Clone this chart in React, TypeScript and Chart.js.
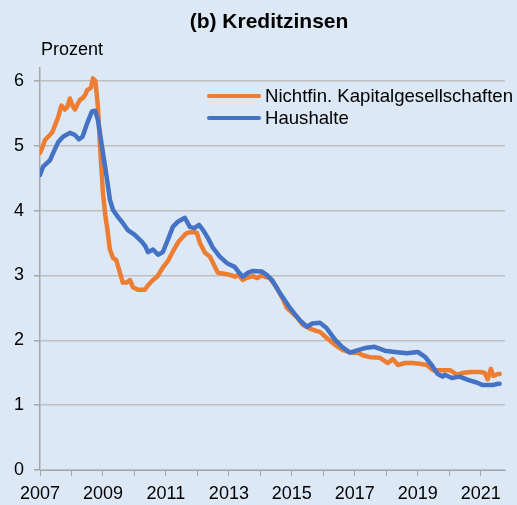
import React, { useEffect, useRef } from "react";
import { Chart, registerables } from "chart.js";

Chart.register(...registerables);

// Nichtfinanzielle Kapitalgesellschaften (year, percent)
const nfcYears = [
  2007.0, 2007.08, 2007.16, 2007.32, 2007.4, 2007.48, 2007.57, 2007.68, 2007.79, 2007.87,
  2007.95, 2008.03, 2008.11, 2008.19, 2008.27, 2008.37, 2008.45, 2008.5, 2008.58, 2008.62,
  2008.68, 2008.76, 2008.84, 2008.9, 2009.0, 2009.08, 2009.13, 2009.22, 2009.32, 2009.42,
  2009.54, 2009.63, 2009.75, 2009.86, 2009.95, 2010.11, 2010.33, 2010.43, 2010.59, 2010.72,
  2010.9, 2011.06, 2011.2, 2011.29, 2011.4, 2011.51, 2011.62, 2011.7, 2011.86, 2011.98,
  2012.08, 2012.24, 2012.4, 2012.56, 2012.65, 2012.8, 2012.94, 2013.1, 2013.19, 2013.3,
  2013.44, 2013.55, 2013.76, 2013.9, 2014.05, 2014.14, 2014.3, 2014.52, 2014.7, 2014.84,
  2015.0, 2015.16, 2015.35, 2015.57, 2015.75, 2015.89, 2016.1, 2016.37, 2016.62, 2016.9,
  2017.1, 2017.25, 2017.48, 2017.8, 2018.05, 2018.21, 2018.37, 2018.6, 2018.84, 2019.05,
  2019.29, 2019.48, 2019.7, 2020.02, 2020.24, 2020.45, 2020.71, 2020.97, 2021.12, 2021.22,
  2021.32, 2021.4, 2021.54, 2021.6,
];
const nfcRates = [
  4.89, 4.98, 5.09, 5.17, 5.22, 5.32, 5.43, 5.62, 5.56, 5.6,
  5.73, 5.62, 5.56, 5.64, 5.71, 5.74, 5.8, 5.86, 5.88, 5.9,
  6.04, 6.0, 5.6, 5.05, 4.27, 3.9, 3.75, 3.4, 3.27, 3.24,
  3.04, 2.89, 2.89, 2.93, 2.82, 2.78, 2.78, 2.85, 2.93, 2.98,
  3.12, 3.22, 3.35, 3.43, 3.52, 3.58, 3.64, 3.66, 3.67, 3.66,
  3.5, 3.35, 3.29, 3.13, 3.04, 3.03, 3.02, 3.0, 2.98, 3.01,
  2.93, 2.96, 2.99, 2.96, 3.0, 2.98, 2.96, 2.81, 2.65, 2.5,
  2.43, 2.36, 2.24, 2.18, 2.15, 2.13, 2.04, 1.93, 1.85, 1.81,
  1.81, 1.77, 1.74, 1.73, 1.65, 1.71, 1.62, 1.65, 1.65, 1.64,
  1.62, 1.54, 1.54, 1.54, 1.47, 1.5, 1.51, 1.51, 1.5, 1.4,
  1.56, 1.45, 1.48, 1.48,
];

// Haushalte (year, percent)
const hhYears = [
  2007.0, 2007.1, 2007.32, 2007.42, 2007.57, 2007.73, 2007.95, 2008.1, 2008.24, 2008.35,
  2008.5, 2008.65, 2008.75, 2008.84, 2009.0, 2009.13, 2009.22, 2009.32, 2009.48, 2009.63,
  2009.79, 2010.0, 2010.24, 2010.35, 2010.43, 2010.59, 2010.75, 2010.9, 2011.06, 2011.22,
  2011.38, 2011.6, 2011.76, 2011.9, 2012.05, 2012.18, 2012.33, 2012.49, 2012.71, 2012.94,
  2013.19, 2013.3, 2013.44, 2013.6, 2013.76, 2014.05, 2014.2, 2014.37, 2014.62, 2014.94,
  2015.1, 2015.25, 2015.48, 2015.65, 2015.89, 2016.1, 2016.37, 2016.59, 2016.84, 2017.1,
  2017.32, 2017.63, 2017.95, 2018.27, 2018.65, 2019.0, 2019.22, 2019.44, 2019.63, 2019.72,
  2019.79, 2019.86, 2020.08, 2020.33, 2020.59, 2020.87, 2021.06, 2021.38, 2021.54, 2021.6,
];
const hhRates = [
  4.55, 4.68, 4.78, 4.89, 5.05, 5.14, 5.2, 5.17, 5.1, 5.14,
  5.35, 5.53, 5.54, 5.4, 4.89, 4.48, 4.17, 4.01, 3.9, 3.81,
  3.7, 3.63, 3.52, 3.45, 3.36, 3.4, 3.32, 3.36, 3.55, 3.75,
  3.83, 3.89, 3.75, 3.73, 3.78, 3.7, 3.58, 3.43, 3.29, 3.19,
  3.13, 3.06, 2.98, 3.04, 3.07, 3.06, 3.01, 2.93, 2.73, 2.5,
  2.4, 2.31, 2.21, 2.26, 2.27, 2.19, 2.01, 1.9, 1.81, 1.85,
  1.88, 1.9, 1.84, 1.82, 1.8, 1.82, 1.75, 1.62, 1.48, 1.46,
  1.44, 1.47, 1.42, 1.44, 1.39, 1.35, 1.31, 1.31, 1.33, 1.33,
];

const seriesLabels = ["Nichtfin. Kapitalgesellschaften", "Haushalte"];
const titleText = "(b) Kreditzinsen";
const unitText = "Prozent";
const xTickYears = [2007, 2008, 2009, 2010, 2011, 2012, 2013, 2014, 2015, 2016, 2017, 2018, 2019, 2020, 2021];
const yTickValues = [0, 1, 2, 3, 4, 5, 6];

const BG = "#DCE8F6";
const ORANGE = "#ED7D31";
const BLUE = "#4472C4";
const FONT = "'Liberation Sans', Arial, sans-serif";

export default function App() {
  const ref = useRef<HTMLCanvasElement | null>(null);

  useEffect(() => {
    document.body.style.margin = "0";
    document.body.style.background = BG;
    const canvas = ref.current;
    if (!canvas) return;

    const decor = {
      id: "decor",
      beforeDraw(chart: any) {
        const ctx = chart.ctx;
        ctx.save();
        ctx.fillStyle = BG;
        ctx.fillRect(0, 0, chart.width, chart.height);
        ctx.restore();
      },
      afterDraw(chart: any) {
        const ctx = chart.ctx;
        ctx.save();
        ctx.fillStyle = "#000";
        ctx.textBaseline = "middle";
        ctx.textAlign = "center";
        ctx.font = `bold 21px ${FONT}`;
        ctx.fillText(titleText, 269, 22);
        ctx.textAlign = "left";
        ctx.font = `18px ${FONT}`;
        ctx.fillText(unitText, 41, 50);
        const colors = [ORANGE, BLUE];
        const ys = [96, 118];
        ctx.font = `18.6px ${FONT}`;
        for (let i = 0; i < 2; i++) {
          ctx.strokeStyle = colors[i];
          ctx.lineWidth = 4;
          ctx.lineCap = "round";
          ctx.beginPath();
          ctx.moveTo(209, ys[i]);
          ctx.lineTo(259, ys[i]);
          ctx.stroke();
          ctx.fillStyle = "#000";
          ctx.fillText(seriesLabels[i], 265, ys[i] + 1);
        }
        ctx.restore();
      },
    };

    const chart = new Chart(canvas, {
      type: "line",
      data: {
        datasets: [
          {
            label: seriesLabels[0],
            data: nfcYears.map((x, i) => ({ x, y: nfcRates[i] })),
            borderColor: ORANGE,
            backgroundColor: ORANGE,
            borderWidth: 4.5,
            pointRadius: 0,
            tension: 0,
            borderJoinStyle: "round",
            borderCapStyle: "round",
            order: 2,
          },
          {
            label: seriesLabels[1],
            data: hhYears.map((x, i) => ({ x, y: hhRates[i] })),
            borderColor: BLUE,
            backgroundColor: BLUE,
            borderWidth: 4.5,
            pointRadius: 0,
            tension: 0,
            borderJoinStyle: "round",
            borderCapStyle: "round",
            order: 1,
          },
        ],
      },
      options: {
        responsive: false,
        animation: false,
        devicePixelRatio: 1,
        layout: { padding: { top: 68, right: 12, left: 0, bottom: 0 } },
        plugins: {
          legend: { display: false },
          title: { display: false },
          tooltip: { enabled: false },
        },
        scales: {
          x: {
            type: "linear",
            min: 2007,
            max: 2021.77,
            afterBuildTicks: (scale: any) => {
              scale.ticks = xTickYears.map((v) => ({ value: v }));
            },
            afterFit: (scale: any) => {
              scale.height = 35;
            },
            ticks: {
              autoSkip: false,
              maxRotation: 0,
              padding: 7,
              color: "#000",
              font: { family: FONT, size: 18 },
              callback: (v: any) => ((Number(v) - 2007) % 2 === 0 ? String(v) : ""),
            },
            grid: {
              display: true,
              drawOnChartArea: false,
              tickLength: 6,
              tickColor: "#A6A6A6",
            },
            border: { display: true, color: "#A6A6A6", width: 1 },
          },
          y: {
            min: 0,
            max: 6.2,
            afterBuildTicks: (scale: any) => {
              scale.ticks = yTickValues.map((v) => ({ value: v }));
            },
            afterFit: (scale: any) => {
              scale.width = 40;
            },
            ticks: {
              padding: 10,
              color: "#000",
              font: { family: FONT, size: 18 },
              callback: (v: any) => String(v),
            },
            grid: {
              color: "#BFBFBF",
              lineWidth: 1.5,
              tickLength: 6,
              tickColor: "#A6A6A6",
            },
            border: { display: true, color: "#A6A6A6", width: 1.5 },
          },
        },
      },
      plugins: [decor],
    } as any);

    return () => chart.destroy();
  }, []);

  return (
    <div style={{ width: 517, height: 505, background: BG }}>
      <canvas ref={ref} width={517} height={505} style={{ display: "block" }} />
    </div>
  );
}
